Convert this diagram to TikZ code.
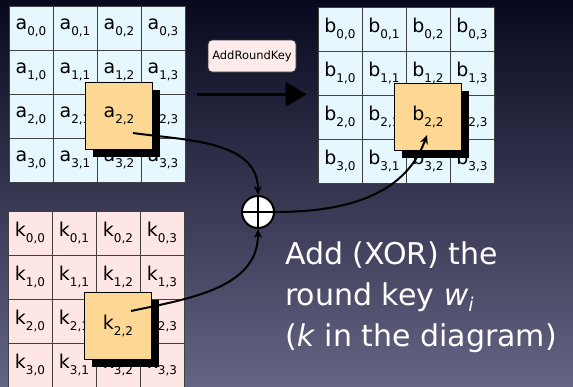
\documentclass[tikz,border=0pt]{standalone}
\usepackage{fontspec}
\setmainfont{DejaVu Sans}
\usepackage{tikz}
\usetikzlibrary{arrows.meta,positioning,shadows,calc}
\definecolor{bgtop}{RGB}{8,8,30}
\definecolor{bgbot}{RGB}{100,100,132}
\definecolor{stateblue}{RGB}{230,247,253}
\definecolor{keypink}{RGB}{253,230,227}
\definecolor{hiorange}{RGB}{253,216,148}
\definecolor{lblpink}{RGB}{253,236,234}
\newcommand\cellsub[2]{#1\raisebox{-6pt}{\fontsize{12}{12}\selectfont#2}}
\tikzset{
  cell/.style={draw=black!75, line width=0.7pt, minimum size=44pt, inner sep=0pt,
    font=\fontsize{19}{19}\selectfont},
  statecell/.style={cell, fill=stateblue},
  keycell/.style={cell, fill=keypink},
  hilite/.style={draw=black, line width=1.5pt, fill=hiorange, minimum size=67pt, inner sep=0pt,
    font=\fontsize{19}{19}\selectfont,
    drop shadow={shadow xshift=7pt, shadow yshift=-7pt, fill=black, opacity=1}},
  % XOR
  xorop/.style={circle, draw=black, line width=2pt, fill=white, minimum size=32pt, inner sep=0pt,
    path picture={\draw[line width=2pt] (path picture bounding box.north) -- (path picture bounding box.south)
      (path picture bounding box.west) -- (path picture bounding box.east);}},
  flow/.style={draw=black, line width=2pt, -{Stealth[length=9pt,width=8pt]}},
  bigarrow/.style={draw=black, line width=3pt, -{Triangle[length=21pt,width=24pt]}},
  steplbl/.style={draw=black!80, line width=0.8pt, rounded corners=4pt, fill=lblpink,
    minimum width=88pt, minimum height=32pt, inner sep=2pt, font=\fontsize{11.5}{12}\selectfont},
  caption/.style={text=white, align=left, inner sep=0pt, font=\fontsize{30}{41}\selectfont}
}

\begin{document}
\begin{tikzpicture}[x=1pt, y=-1pt]
  \shade[top color=bgtop, bottom color=bgbot] (0,0) rectangle (573,386);
  \useasboundingbox (0,0) rectangle (573,386);

  % state, result and key grids
  \foreach \r in {0,...,3}{
    \foreach \c in {0,...,3}{
      \node[statecell] (a-\r-\c) at ({31+44*\c},{28+44*\r}) {\cellsub{a}{\r,\c}};
      \node[statecell] (b-\r-\c) at ({340+44*\c},{29+44*\r}) {\cellsub{b}{\r,\c}};
      \node[keycell]   (k-\r-\c) at ({30+44*\c},{233+44*\r}) {\cellsub{k}{\r,\c}};
    }
  }
  \node[hilite] (a-hl) at (a-2-2) {\cellsub{a}{2,2}};
  \node[hilite] (b-hl) at (b-2-2) {\cellsub{b}{2,2}};
  \node[hilite] (k-hl) at ([yshift=-5pt]k-2-2.center) {\cellsub{k}{2,2}};

  % AddRoundKey step
  \coordinate (arrS) at ([xshift=12pt]a-1-3.south east);
  \coordinate (arrE) at ([xshift=-11pt]b-1-0.south west);
  \draw[bigarrow] (arrS) -- (arrS -| arrE);
  \node[steplbl] (step-lbl) at (252,56) {AddRoundKey};

  \node[xorop] (xor) at (258,212) {};
  \draw[flow] ([xshift=14pt,yshift=-17pt]a-hl.center) to[out=-8, in=90] (xor.north);
  \draw[flow] ([xshift=13pt,yshift=15pt]k-hl.center) to[out=12, in=-90] (xor.south);
  \draw[flow] (xor.east) to[out=0, in=-110] ([xshift=-1pt,yshift=-18pt]b-hl.center);

  \node[caption, anchor=base west] (note) at (285,346)
    {Add (XOR) the\\round key \textit{w}\raisebox{-6pt}{\fontsize{19}{19}\selectfont\itshape i}\\(\textit{k} in the diagram)};
\end{tikzpicture}
\end{document}
